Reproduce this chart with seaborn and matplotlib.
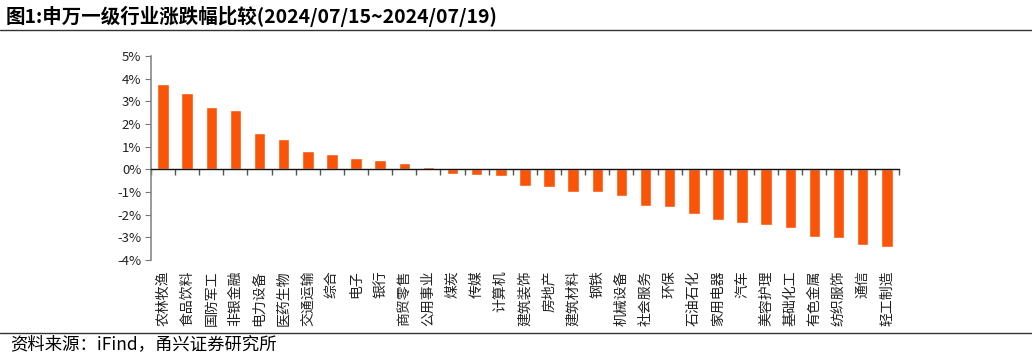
import numpy as np
import pandas as pd
import matplotlib
matplotlib.use("Agg")
import matplotlib.pyplot as plt
import matplotlib.transforms as mtransforms
from matplotlib.ticker import FuncFormatter, FixedLocator
import seaborn as sns

industries = ['农林牧渔', '食品饮料', '国防军工', '非银金融', '电力设备', '医药生物',
              '交通运输', '综合', '电子', '银行', '商贸零售', '公用事业', '煤炭', '传媒',
              '计算机', '建筑装饰', '房地产', '建筑材料', '钢铁', '机械设备', '社会服务',
              '环保', '石油石化', '家用电器', '汽车', '美容护理', '基础化工', '有色金属',
              '纺织服饰', '通信', '轻工制造']
changes = [3.76, 3.39, 2.76, 2.61, 1.61, 1.34, 0.81, 0.68, 0.50, 0.41, 0.26, 0.12,
           -0.21, -0.25, -0.30, -0.75, -0.78, -0.99, -1.00, -1.17, -1.62, -1.68,
           -1.99, -2.23, -2.36, -2.48, -2.57, -2.99, -3.02, -3.36, -3.44]

df = pd.DataFrame({'industry': industries, 'change': changes})

sns.set_style('white')
plt.rcParams['font.family'] = ['Noto Sans CJK SC', 'DejaVu Sans']
plt.rcParams['axes.unicode_minus'] = False

fig = plt.figure(figsize=(10.32, 3.57), dpi=100)
ax = fig.add_axes([0.1463, 0.272, 0.7247, 0.571])

sns.barplot(data=df, x='industry', y='change', color='#FA5408', saturation=1,
            width=0.48, ax=ax)

ax.set_xlim(-0.5, len(industries) - 0.5)
ax.set_ylim(-4, 5)
ax.set_yticks(np.arange(-4, 6, 1))
ax.yaxis.set_major_formatter(FuncFormatter(lambda v, p: f'{v:.0f}%'))
ax.tick_params(axis='y', direction='out', length=4, width=0.8, color='#777777',
               labelsize=9.5, labelcolor='#222222', pad=3, left=True)

# zero line with boundary ticks
for s in ['top', 'right']:
    ax.spines[s].set_visible(False)
ax.spines['left'].set_color('#888888')
ax.spines['left'].set_linewidth(1.2)
ax.spines['bottom'].set_position(('data', 0))
ax.spines['bottom'].set_color('#111111')
ax.spines['bottom'].set_linewidth(1.0)
ax.xaxis.set_major_locator(FixedLocator(np.arange(-0.5, len(industries), 1)))
ax.set_xticklabels([])
ax.tick_params(axis='x', direction='out', length=4, width=1, color='#555555', bottom=True)
ax.set_xlabel('')
ax.set_ylabel('')

# rotated category labels, top aligned below the plot
trans = mtransforms.blended_transform_factory(ax.transData, fig.transFigure)
for i, name in enumerate(industries):
    ax.text(i, 1 - 270 / 357, name, transform=trans, ha='center', va='top',
            rotation=90, fontsize=10, color='#222222')

# title and rules
fig.text(0.005, 1 - 16 / 357, '图1:申万一级行业涨跌幅比较(2024/07/15~2024/07/19)',
         ha='left', va='center', fontsize=14, fontweight='bold', color='black')
fig.add_artist(plt.Line2D([0, 1], [1 - 30 / 357, 1 - 30 / 357], color='#333333', lw=1))
fig.add_artist(plt.Line2D([0, 1], [1 - 333 / 357, 1 - 333 / 357], color='#333333', lw=1))
fig.text(0.010, 1 - 344 / 357, '资料来源：iFind，甬兴证券研究所', ha='left', va='center',
         fontsize=12.5, style='italic', color='black')

fig.savefig('out.png', dpi=100)
